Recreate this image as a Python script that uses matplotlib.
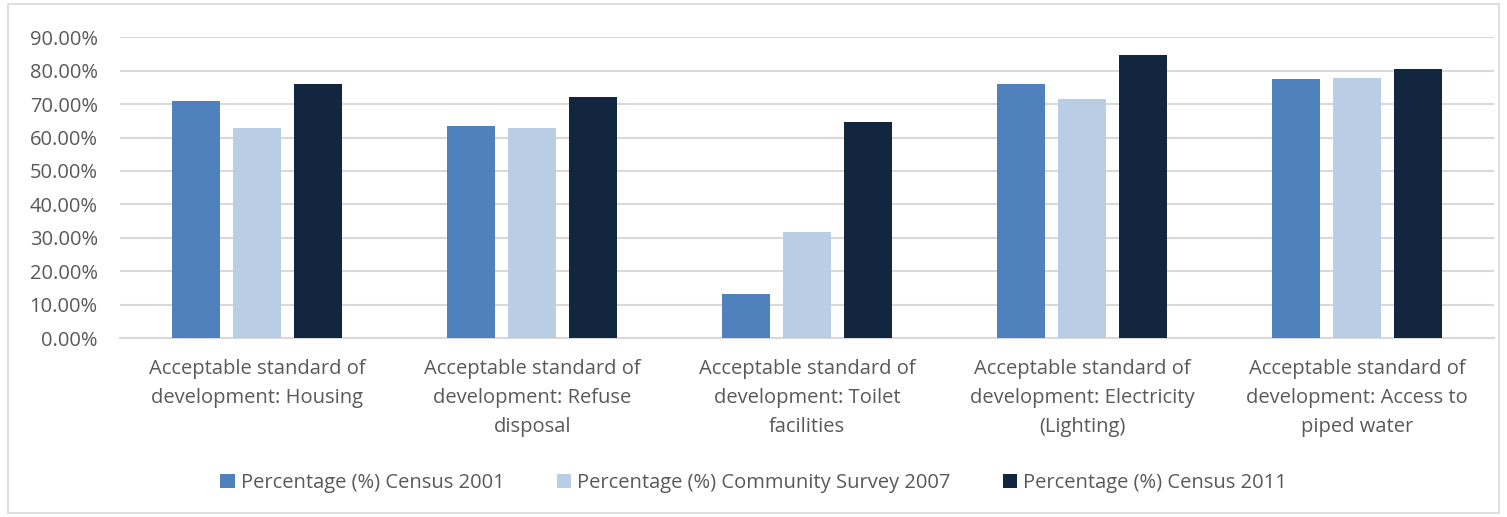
import numpy as np
import matplotlib.pyplot as plt
from matplotlib.patches import Rectangle
from matplotlib.font_manager import fontManager

# categories and the three survey series (percent)
categories = [
    "Acceptable standard of\ndevelopment: Housing",
    "Acceptable standard of\ndevelopment: Refuse\ndisposal",
    "Acceptable standard of\ndevelopment: Toilet\nfacilities",
    "Acceptable standard of\ndevelopment: Electricity\n(Lighting)",
    "Acceptable standard of\ndevelopment: Access to\npiped water",
]
census_2001 = [70.9, 63.4, 13.1, 76.0, 77.5]
survey_2007 = [62.8, 62.7, 31.8, 71.6, 77.9]
census_2011 = [75.9, 72.1, 64.6, 84.6, 80.5]
series_names = [
    "Percentage (%) Census 2001",
    "Percentage (%) Community Survey 2007",
    "Percentage (%) Census 2011",
]
colors = ["#4f81bd", "#b9cde5", "#132640"]
yticks = np.arange(0, 91, 10)

installed = {f.name for f in fontManager.ttflist}
fams = [f for f in ["Liberation Sans Narrow", "Open Sans", "DejaVu Sans"] if f in installed]
plt.rcParams["font.family"] = fams
text_col = "#595959"

fig = plt.figure(figsize=(15.07, 5.17), dpi=100)
ax = fig.add_axes([0.0796, 0.346, 0.912, 0.582])

x = np.arange(len(categories))
step = 0.222
w = 0.175
for i, (vals, name, c) in enumerate(zip([census_2001, survey_2007, census_2011], series_names, colors)):
    ax.bar(x + (i - 1) * step, vals, width=w, color=c, label=name, zorder=3)

ax.set_xlim(-0.5, len(categories) - 0.5)
ax.set_ylim(0, 90)
ax.set_yticks(yticks)
ax.set_yticklabels([f"{v:.2f}%" for v in yticks], fontsize=14.5, color=text_col)
ax.yaxis.grid(True, color="#d9d9d9", lw=1.5, zorder=0)
ax.set_xticks(x)
ax.set_xticklabels(categories, fontsize=14.5, color=text_col, linespacing=1.6)
ax.tick_params(axis="both", length=0)
ax.tick_params(axis="x", pad=15)
ax.tick_params(axis="y", pad=16)
for s in ["top", "right", "left"]:
    ax.spines[s].set_visible(False)
ax.spines["bottom"].set_color("#d9d9d9")
ax.spines["bottom"].set_linewidth(1.5)

leg = fig.legend(loc="center", bbox_to_anchor=(0.5, 0.066), ncol=3, frameon=False,
                 fontsize=14.5, handlelength=0.7, handleheight=0.7, handletextpad=0.3,
                 columnspacing=2.6)
for t in leg.get_texts():
    t.set_color(text_col)

# chart frame
fig.patches.append(Rectangle((0.005, 0.008), 0.99, 0.985, transform=fig.transFigure,
                             fill=False, edgecolor="#d9d9d9", lw=1.2))

fig.savefig("out.png", dpi=100)
